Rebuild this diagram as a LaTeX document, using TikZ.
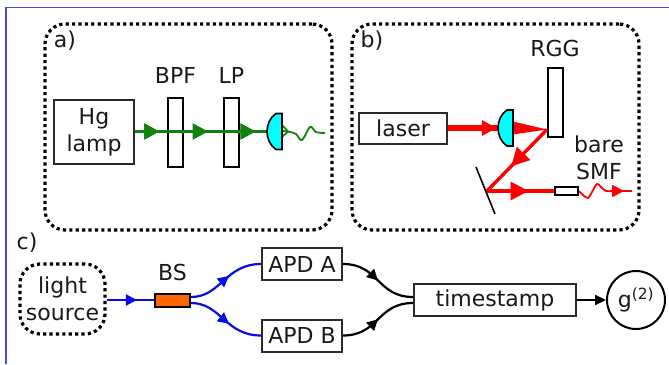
\documentclass[tikz,border=0pt]{standalone}
\usepackage{fontspec}
\setmainfont{DejaVu Sans}
\usepackage{xcolor}
\usetikzlibrary{positioning,arrows.meta,decorations.markings}
\definecolor{BeamGreen}{HTML}{128012}
\definecolor{BeamRed}{HTML}{FF0000}
\definecolor{FibreBlue}{HTML}{0A0AF0}
\definecolor{LensCyan}{HTML}{00FFFF}
\definecolor{BsOrange}{HTML}{FF6600}
\definecolor{FrameBlue}{HTML}{4A4AF0}
\definecolor{BoxGrey}{HTML}{2B2B2B}

\begin{document}
\begin{tikzpicture}[
  x=1pt,y=-1pt,
  every node/.style={font=\fontsize{22}{27}\selectfont,align=center,inner sep=0pt,text=black!90},
  box/.style={draw=BoxGrey,line width=2pt,fill=white},
  slab/.style={draw=black,line width=2pt,minimum width=15pt},
  dots/.style={draw=black,line width=3.2pt,dash pattern=on 3.2pt off 3.2pt,rounded corners=20pt},
  midtip/.style args={#1 at #2}{postaction={decorate},decoration={markings,mark=at position #2 with {\arrow{Triangle[length=#1,width=#1]}}}},
  green beam/.style={BeamGreen,line width=3.6pt},
  red beam/.style={BeamRed,line width=3.4pt},
  fibre/.style={FibreBlue,line width=2.2pt},
  wire/.style={black,line width=2.2pt},
  lens/.pic={\draw[black,line width=1.6pt,fill=LensCyan] (0,-18) -- (-6,-18) .. controls (-12,-14) and (-15,-7) .. (-15,0) .. controls (-15,7) and (-12,14) .. (-6,18) -- (0,18) -- cycle;}
]
  \useasboundingbox (0,0) rectangle (669,364);
  \draw[FrameBlue,line width=1.3pt] (6,364) -- (6,7.5) -- (669,7.5);

  % panel a
  \node[dots,minimum width=287pt,minimum height=206pt] (pa) at (188.5,127) {};
  \node (la) at (65,41) {a)};
  \node[box,minimum width=80pt,minimum height=64pt] (lamp) at (94,132) {Hg\\lamp};
  \node[slab,minimum height=69pt,right=32pt of lamp.east,anchor=west] (bpf) {};
  \node[slab,minimum height=69pt,right=39pt of bpf.east,anchor=west] (lp) {};
  \node[above=13pt of bpf] (tbpf) {BPF};
  \node[above=13pt of lp] (tlp) {LP};
  \coordinate (fa) at (282,131.5);
  \coordinate (fb) at (325,133);
  \draw[green beam,midtip={15pt at .165},midtip={15pt at .495},midtip={15pt at .82}] (lamp.east |- fa) -- (fa);
  \draw[BeamGreen,line width=1.8pt] (282,125) -- (288,131.5) -- (282,137);
  \draw[BeamGreen,line width=1.8pt] plot[smooth,tension=.6] coordinates {(283,131) (290,132) (296,134) (302,140) (310,127) (316,132) (fb)};
  \pic at (fa) {lens};

  % panel b
  \node[dots,minimum width=287pt,minimum height=206pt] (pb) at (495.5,127) {};
  \node (lb) at (372,41) {b)};
  \node[box,minimum width=88pt,minimum height=31pt] (laser) at (403,128.5) {laser};
  \node[slab,minimum height=69pt] (rgg) at (555,102.5) {};
  \node[above=10pt of rgg] (trgg) {RGG};
  \node (tsmf) at (599,158) {bare\\SMF};
  \coordinate (lb1) at (513,128);
  \coordinate (hit) at (547,129.5);
  \coordinate (mir) at (487,191);
  \node[box,draw=black,minimum width=23pt,minimum height=8pt] (smf) at (566.5,191) {};
  \coordinate (fe) at (632,191);
  \draw[black,line width=1.6pt] (476,167) -- (495,214);
  \draw[BeamRed,line width=6pt,midtip={15pt at .75}] (laser.east |- lb1) -- (lb1);
  \fill[BeamRed] (513,121.5) -- (hit) -- (513,134.5) -- cycle;
  \draw[red beam,midtip={18pt at .6}] (hit) -- (mir);
  \draw[red beam,midtip={18pt at .62}] (mir) -- (smf.west);
  \draw[BeamRed,line width=1.8pt] plot[smooth,tension=.6] coordinates {(smf.east) (583,195) (588,198) (592,192) (597,184) (601,187) (606,191) (612,191)};
  \draw[BeamRed,line width=1.8pt,midtip={12pt at .6}] (612,191) -- (fe);
  \pic at (lb1) {lens};

  % panel c
  \node (lc) at (27,243) {c)};
  \node[dots,minimum width=85pt,minimum height=70pt] (src) at (62.5,299) {light\\source};
  \node[box,draw=black,fill=BsOrange,minimum width=35pt,minimum height=13pt] (bs) at (172.5,300) {};
  \node[above=11pt of bs] (tbs) {BS};
  \node[box,minimum width=80pt,minimum height=32pt] (apa) at (302,264) {APD A};
  \node[box,minimum width=80pt,minimum height=32pt] (apb) at (302,335.5) {APD B};
  \node[box,minimum width=162pt,minimum height=32pt] (ts) at (495,300) {timestamp};
  \node[circle,draw=black,line width=2pt,minimum size=58pt] (g2) at (636,300) {g\textsuperscript{(2)}};
  \draw[fibre,midtip={11pt at .64}] (src.east |- bs.west) -- (bs.west);
  \draw[fibre,midtip={11pt at .56}] ([yshift=3pt]bs.east) .. controls +(30,0) and +(-36,0) .. (apa.west);
  \draw[fibre,midtip={11pt at .56}] ([yshift=-3pt]bs.east) .. controls +(30,0) and +(-36,0) .. (apb.west);
  \draw[wire,midtip={11pt at .5}] (apa.east) .. controls +(36,0) and +(-36,0) .. ([yshift=3pt]ts.west);
  \draw[wire,midtip={11pt at .5}] (apb.east) .. controls +(36,0) and +(-36,0) .. ([yshift=-3pt]ts.west);
  \draw[wire,-{Triangle[length=11pt,width=10pt]}] (ts) -- (g2);
\end{tikzpicture}
\end{document}
